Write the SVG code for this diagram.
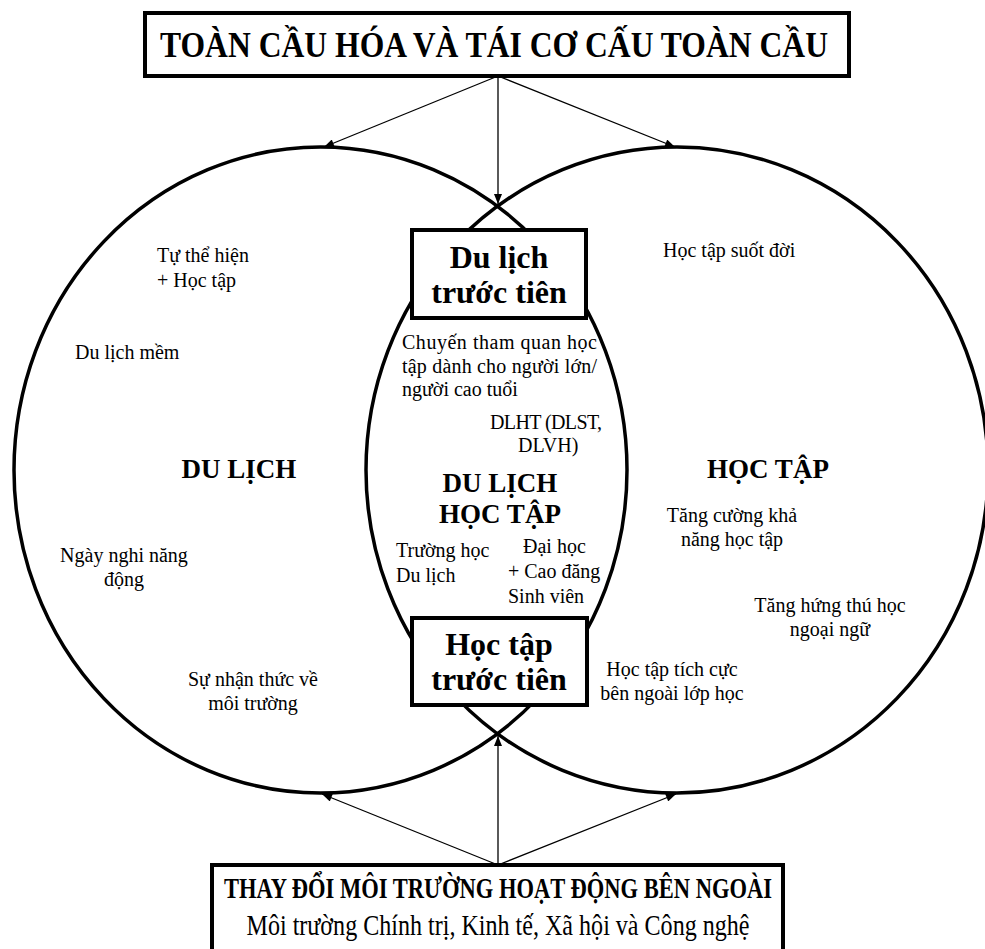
<svg xmlns="http://www.w3.org/2000/svg" width="985" height="949" viewBox="0 0 985 949">
  <style>
    .ring { fill: none; stroke: #000; stroke-width: 3.5; }
    .box { fill: #fff; stroke: #000; stroke-width: 4; }
    .link { fill: none; stroke: #000; stroke-width: 1.3; marker-end: url(#tip); }
    .t { font-family: "Liberation Serif", "Times New Roman", serif; fill: #000; }
    .r { font-size: 20px; }
    .b { font-weight: bold; }
    .mid { text-anchor: middle; }
  </style>
  <defs>
    <marker id="tip" viewBox="0 0 10 8" refX="10" refY="4" markerWidth="11" markerHeight="8" markerUnits="userSpaceOnUse" orient="auto">
      <path d="M0,0 L10,4 L0,8 Z" fill="#000"/>
    </marker>
  </defs>

  <rect width="985" height="949" fill="#fff"/>

  <!-- two overlapping fields -->
  <g id="du-lich">
    <ellipse class="ring" cx="320.5" cy="470" rx="306.5" ry="323"/>
    <text class="t b mid" x="239" y="478" font-size="27">DU LỊCH</text>
    <text class="t r" x="157" y="262">Tự thể hiện</text>
    <text class="t r" x="157" y="287">+ Học tập</text>
    <text class="t r" x="75" y="359">Du lịch mềm</text>
    <text class="t r mid" x="124" y="562">Ngày nghi năng</text>
    <text class="t r mid" x="124" y="586">động</text>
    <text class="t r mid" x="253" y="686">Sự nhận thức về</text>
    <text class="t r mid" x="253" y="710">môi trường</text>
  </g>

  <g id="hoc-tap">
    <ellipse class="ring" cx="677" cy="470" rx="311" ry="323"/>
    <text class="t b mid" x="768" y="478" font-size="27">HỌC TẬP</text>
    <text class="t r" x="663" y="257">Học tập suốt đời</text>
    <text class="t r mid" x="732" y="522">Tăng cường khả</text>
    <text class="t r mid" x="732" y="546">năng học tập</text>
    <text class="t r mid" x="830" y="612">Tăng hứng thú học</text>
    <text class="t r mid" x="830" y="636">ngoại ngữ</text>
    <text class="t r mid" x="672" y="676">Học tập tích cực</text>
    <text class="t r mid" x="672" y="700">bên ngoài lớp học</text>
  </g>

  <!-- overlap: learning tourism -->
  <g id="du-lich-hoc-tap">
    <text class="t r" x="402" y="349" textLength="195" lengthAdjust="spacing">Chuyến tham quan học</text>
    <text class="t r" x="402" y="373" textLength="195" lengthAdjust="spacing">tập dành cho người lớn/</text>
    <text class="t r" x="402" y="396">người cao tuổi</text>
    <text class="t r" x="490" y="429" textLength="112" lengthAdjust="spacing">DLHT (DLST,</text>
    <text class="t r" x="518" y="452">DLVH)</text>
    <text class="t b mid" x="500" y="492" font-size="27">DU LỊCH</text>
    <text class="t b mid" x="500" y="523" font-size="27">HỌC TẬP</text>
    <text class="t r" x="396" y="557">Trường học</text>
    <text class="t r" x="396" y="582">Du lịch</text>
    <text class="t r" x="523" y="553">Đại học</text>
    <text class="t r" x="508" y="578">+ Cao đăng</text>
    <text class="t r" x="508" y="603">Sinh viên</text>
  </g>

  <g id="du-lich-truoc-tien">
    <rect class="box" x="412" y="230" width="174" height="88"/>
    <text class="t b mid" x="499" y="268" font-size="32">Du lịch</text>
    <text class="t b mid" x="499" y="303" font-size="32">trước tiên</text>
  </g>

  <g id="hoc-tap-truoc-tien">
    <rect class="box" x="412" y="618" width="175" height="87"/>
    <text class="t b mid" x="499" y="655" font-size="32">Học tập</text>
    <text class="t b mid" x="499" y="690" font-size="32">trước tiên</text>
  </g>

  <g id="toan-cau-hoa">
    <rect class="box" x="145" y="13" width="704" height="63"/>
    <text class="t b mid" x="494" y="57" font-size="36" textLength="668" lengthAdjust="spacingAndGlyphs">TOÀN CẦU HÓA VÀ TÁI CƠ CẤU TOÀN CẦU</text>
  </g>

  <g id="moi-truong-ben-ngoai">
    <rect class="box" x="212" y="865" width="571" height="100"/>
    <text class="t b mid" x="498" y="898" font-size="29" textLength="548" lengthAdjust="spacingAndGlyphs">THAY ĐỔI MÔI TRƯỜNG HOẠT ĐỘNG BÊN NGOÀI</text>
    <text class="t mid" x="498" y="935" font-size="29" textLength="503" lengthAdjust="spacingAndGlyphs">Môi trường Chính trị, Kinh tế, Xã hội và Công nghệ</text>
  </g>

  <!-- connectors -->
  <g id="connectors">
    <line class="link" x1="498" y1="76" x2="324" y2="147"/>
    <line class="link" x1="498" y1="76" x2="498" y2="204"/>
    <line class="link" x1="498" y1="76" x2="675" y2="147"/>
    <line class="link" x1="498" y1="865" x2="322" y2="794"/>
    <line class="link" x1="498" y1="865" x2="498" y2="736"/>
    <line class="link" x1="498" y1="865" x2="676" y2="794"/>
  </g>
</svg>
